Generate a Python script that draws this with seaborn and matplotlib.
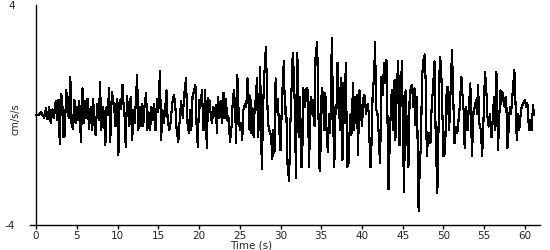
import matplotlib
matplotlib.use("Agg")
import matplotlib.pyplot as plt
import seaborn as sns
import pandas as pd

# Time (s) of successive peaks/troughs
time_s = [
    0.0, 0.3, 0.6, 0.8, 1.0, 1.2, 1.4, 1.6, 1.8, 2.0, 2.2, 2.4, 2.6, 2.75, 2.9, 3.05, 3.2, 3.35, 3.5, 3.7,
    3.85, 4.0, 4.2, 4.35, 4.5, 4.7, 4.85, 5.0, 5.15, 5.3, 5.5, 5.7, 5.85, 6.0, 6.15, 6.3, 6.5, 6.7, 6.85, 7.0,
    7.15, 7.3, 7.5, 7.7, 7.85, 8.0, 8.15, 8.3, 8.5, 8.65, 8.8, 8.95, 9.1, 9.3, 9.45, 9.6, 9.75, 9.9, 10.1, 10.25,
    10.4, 10.6, 10.75, 10.85, 11.0, 11.15, 11.3, 11.45, 11.6, 11.8, 11.95, 12.1, 12.4, 12.55, 12.7, 12.85, 13.0, 13.15, 13.3, 13.5,
    13.65, 13.8, 14.0, 14.15, 14.35, 14.5, 14.65, 14.85, 15.0, 15.2, 15.35, 15.5, 15.65, 15.8, 16.0, 16.15, 16.35, 16.5, 16.7, 16.9,
    17.05, 17.25, 17.45, 17.6, 17.8, 18.0, 18.15, 18.4, 18.55, 18.75, 18.9, 19.05, 19.2, 19.35, 19.55, 19.7, 19.85, 20.0, 20.15, 20.35,
    20.55, 20.75, 20.95, 21.1, 21.3, 21.45, 21.6, 21.75, 21.9, 22.05, 22.2, 22.35, 22.5, 22.7, 22.85, 23.0, 23.15, 23.3, 23.45, 23.6,
    23.8, 24.0, 24.15, 24.3, 24.45, 24.55, 24.7, 24.9, 25.05, 25.15, 25.3, 25.45, 25.65, 25.8, 25.95, 26.1, 26.2, 26.3, 26.4, 26.55,
    26.7, 26.85, 26.95, 27.1, 27.25, 27.35, 27.5, 27.7, 27.95, 28.2, 28.45, 28.6, 28.75, 28.85, 29.0, 29.1, 29.25, 29.4, 29.55, 29.65,
    29.85, 30.0, 30.2, 30.4, 30.55, 30.7, 30.85, 31.05, 31.2, 31.35, 31.5, 31.65, 31.75, 31.9, 32.05, 32.15, 32.3, 32.4, 32.55, 32.65,
    32.8, 32.9, 33.0, 33.2, 33.35, 33.5, 33.7, 33.8, 33.95, 34.1, 34.2, 34.3, 34.5, 34.7, 34.8, 34.95, 35.05, 35.2, 35.35, 35.5,
    35.65, 35.8, 35.95, 36.1, 36.3, 36.45, 36.6, 36.75, 36.85, 37.0, 37.15, 37.3, 37.4, 37.6, 37.7, 37.9, 38.0, 38.2, 38.35, 38.5,
    38.6, 38.7, 38.9, 39.0, 39.15, 39.3, 39.4, 39.5, 39.7, 39.85, 40.0, 40.2, 40.3, 40.5, 40.7, 40.85, 41.0, 41.1, 41.3, 41.5,
    41.6, 41.75, 41.9, 42.05, 42.2, 42.3, 42.4, 42.55, 42.7, 42.8, 43.0, 43.1, 43.25, 43.45, 43.6, 43.7, 43.85, 44.0, 44.1, 44.3,
    44.45, 44.6, 44.75, 44.9, 45.0, 45.15, 45.35, 45.5, 45.7, 45.85, 46.0, 46.15, 46.3, 46.45, 46.55, 46.7, 46.8, 46.95, 47.1, 47.25,
    47.35, 47.5, 47.7, 47.85, 47.95, 48.1, 48.25, 48.4, 48.55, 48.7, 48.9, 49.05, 49.25, 49.4, 49.55, 49.7, 49.85, 50.0, 50.2, 50.35,
    50.5, 50.7, 50.85, 51.05, 51.2, 51.35, 51.5, 51.7, 51.85, 52.0, 52.2, 52.35, 52.5, 52.6, 52.8, 52.95, 53.15, 53.3, 53.5, 53.7,
    53.85, 54.0, 54.1, 54.25, 54.4, 54.6, 54.75, 54.9, 55.1, 55.25, 55.4, 55.55, 55.7, 55.9, 56.05, 56.2, 56.35, 56.5, 56.7, 56.85,
    57.0, 57.1, 57.2, 57.35, 57.5, 57.7, 57.85, 58.0, 58.15, 58.3, 58.5, 58.7, 58.85, 59.0, 59.15, 59.3, 59.45, 59.6, 59.8, 60.0,
    60.15, 60.3, 60.5, 60.65, 60.8, 61.0, 61.1,
]

# Acceleration (cm/s/s) at those instants
accel = [
    0.0, 0.0, 0.1, 0.0, -0.1, 0.25, -0.15, 0.3, -0.3, 0.2, -0.1, 0.5, -0.2, 0.55, -1.07, 0.75, 0.6, -0.8, -0.75, 0.9,
    0.3, -0.1, 1.4, -0.3, -0.5, 0.55, -0.3, 0.3, -0.2, 0.5, -0.97, 0.97, -0.3, 0.5, -0.1, 0.6, -0.5, 0.3, -0.55, 0.6,
    -0.3, -0.73, 0.4, -0.2, 1.2, -0.55, 0.3, 0.1, -1.1, 0.3, 0.0, 1.0, -0.97, 0.85, 0.55, 0.2, -0.4, 0.6, -1.45, 0.55,
    0.2, 1.1, 0.3, 0.0, -1.15, 0.7, 0.2, -0.4, 0.65, -0.9, 0.2, -0.3, 1.45, -0.55, 0.3, -0.4, 0.4, -0.4, 0.3, 0.8,
    -0.55, 0.1, -0.55, 0.3, -0.2, 0.4, -0.55, 0.6, 0.1, 1.6, -0.9, 0.2, -0.3, 0.05, 0.9, -0.2, -0.55, -0.3, 0.4, 0.73,
    0.5, -0.55, -0.97, -0.3, 0.5, -0.1, 0.65, 1.33, -0.2, -0.67, 0.2, -0.55, 0.65, 0.85, 1.1, -0.4, -1.15, 0.55, 0.25, 0.9,
    -0.55, 0.9, -1.2, 0.6, 0.5, -0.05, -0.3, 0.3, -0.05, 0.35, -0.65, 0.65, -0.1, 0.5, -0.3, 0.8, -0.1, 0.6, -0.2, -0.05,
    -0.97, -0.4, 0.6, 0.9, 0.05, -1.03, 1.45, -0.3, -0.55, -0.3, -0.9, 0.2, 0.4, 0.3, 1.33, 0.55, -0.55, 0.7, -0.67, 0.25,
    -0.8, 0.5, 0.4, 1.33, -0.8, -0.25, 1.75, -1.95, 1.15, 2.48, -0.25, -0.55, -0.67, -0.8, -1.6, -0.55, -1.4, 1.33, 0.1, 0.6,
    -0.55, -1.27, 0.67, 1.95, 0.05, 0.3, -1.75, -2.4, -0.4, 0.9, 2.25, 1.4, 0.3, -2.3, 2.25, 1.4, -0.8, 0.67, -1.9, -1.9,
    0.97, 0.73, 0.3, 0.97, 0.9, -1.9, 0.67, 0.05, 0.55, -0.3, -0.4, 2.1, 2.65, -0.67, -2.05, -1.0, 0.97, 0.8, -0.55, 0.8,
    -0.55, -1.33, 0.05, -0.67, 2.8, -0.05, -1.9, 0.3, 0.05, 1.9, 0.67, -0.55, 1.33, -1.65, 1.15, -0.3, 1.9, -1.9, -1.75, -0.4,
    0.05, -0.73, 1.15, -0.55, 0.67, -0.3, 0.73, -1.45, 0.9, 0.2, -0.4, 0.67, 0.73, 0.05, 0.4, 0.0, -1.9, -1.9, 0.67, 1.5,
    2.65, 0.2, 0.05, -0.67, -1.75, -0.55, 1.4, 0.73, 1.9, 1.15, 2.0, 0.5, -2.7, -0.55, 0.67, 0.9, -0.55, 1.27, -0.9, 1.15,
    1.95, -1.1, 0.67, 1.95, -0.05, -2.8, 0.9, -0.4, -1.9, 0.67, 1.03, 1.1, 0.3, 0.97, -0.37, 0.67, -0.42, -3.5, -1.75, -1.03,
    1.15, 1.95, 2.2, 0.9, -1.5, -0.9, -0.67, -1.03, 0.3, 0.9, 1.95, -0.85, -2.85, -0.3, 2.1, 1.9, 0.3, -1.5, -1.4, 0.67,
    1.03, -0.55, 0.67, 2.35, 0.67, -1.03, -0.42, -0.67, -0.18, 0.3, 1.4, 0.67, 0.05, -1.2, 0.3, -0.55, 0.42, 1.15, -1.5, 0.18,
    0.3, 0.55, 0.05, 1.1, -0.3, -0.55, -1.5, -0.3, 1.58, 0.97, -0.05, -0.42, 0.05, -0.8, -0.18, 0.67, -0.55, 1.58, -1.27, -0.05,
    0.9, 0.4, 0.85, 0.67, 0.3, 0.67, -1.2, -0.55, 0.3, 0.05, 0.85, 1.65, 0.42, -0.9, 0.05, -0.55, -0.05, 0.3, 0.42, 0.55,
    0.3, 0.42, -0.55, -0.18, -0.55, 0.36, 0.0,
]

x_ticks = [0, 5, 10, 15, 20, 25, 30, 35, 40, 45, 50, 55, 60]
y_ticks = [-4, 4]
y_label = "cm/s/s"
x_label = "Time (s)"

sns.set_style("white")
plt.rcParams["font.family"] = ["DejaVu Sans"]

df = pd.DataFrame({"t": time_s, "a": accel})

fig = plt.figure(figsize=(5.5, 2.5), dpi=100)
ax = fig.add_axes([30 / 550, 25 / 250, 510 / 550, 220 / 250])

sns.lineplot(data=df, x="t", y="a", ax=ax, color="black", linewidth=0.8,
             estimator=None, sort=False, antialiased=False)

ax.set_xlim(-0.75, 61.85)
ax.set_ylim(-4, 4)

for s in ["top", "right"]:
    ax.spines[s].set_visible(False)
ax.spines["left"].set_position(("data", 0))
ax.spines["left"].set_color("black")
ax.spines["bottom"].set_color("black")
ax.spines["left"].set_linewidth(1.0)
ax.spines["bottom"].set_linewidth(1.0)

ax.set_xticks(x_ticks)
ax.set_xticklabels([str(v) for v in x_ticks])
ax.set_yticks(y_ticks)
ax.set_yticklabels([str(v) for v in y_ticks])
ax.tick_params(axis="x", direction="out", length=3, width=1, color="black",
               labelsize=7.5, pad=1, bottom=True)
ax.tick_params(axis="y", length=0, labelsize=7.5, pad=15, left=True)
ax.set_xlabel("")
ax.set_ylabel("")

fig.text(15 / 550, 1 - 119 / 250, y_label, rotation=90, ha="center", va="center",
         fontsize=7)
fig.text(251 / 550, 1 - 245.5 / 250, x_label, ha="center", va="center", fontsize=7.5)

fig.savefig("out.png", dpi=100)
